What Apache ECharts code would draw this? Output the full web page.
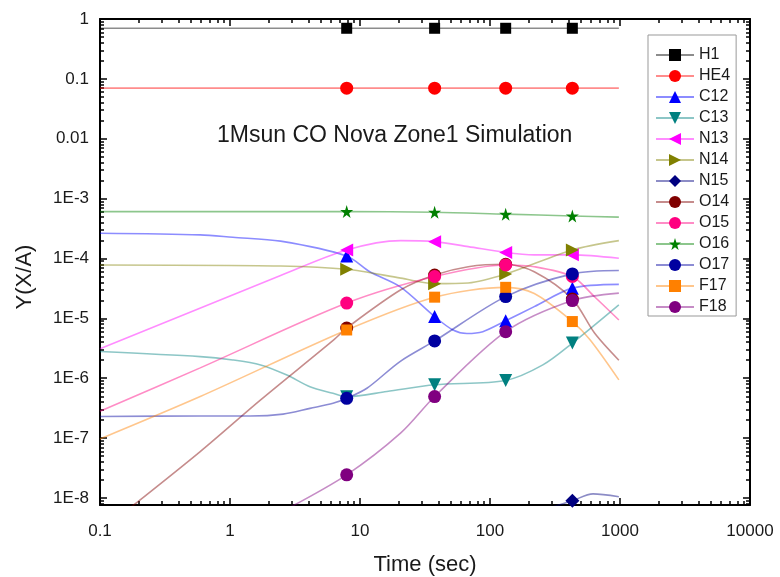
<!DOCTYPE html>
<html><head><meta charset="utf-8">
<script src="https://cdn.jsdelivr.net/npm/echarts@6/dist/echarts.min.js"></script>
<style>html,body{margin:0;padding:0;background:#fff}#c{width:780px;height:577px}</style>
</head><body><div id="c"></div>
<script>
// ---- data (time in sec, abundance Y(X/A)) ----
const xTickLabels = ['0.1', '1', '10', '100', '1000', '10000'];
const yTickLabels = ['1E-8', '1E-7', '1E-6', '1E-5', '1E-4', '1E-3', '0.01', '0.1', '1'];
const markerTimes = [7.9, 37.5, 132, 430];
const speciesNames = ['H1', 'HE4', 'C12', 'C13', 'N13', 'N14', 'N15', 'O14', 'O15', 'O16', 'O17', 'F17', 'F18'];

const tH1 = [0.1, 7.9, 37.5, 132, 430, 980];
const yH1 = [0.70, 0.70, 0.70, 0.70, 0.70, 0.70];
const tHE4 = [0.1, 7.9, 37.5, 132, 430, 980];
const yHE4 = [0.07, 0.07, 0.07, 0.07, 0.07, 0.07];
const tC12 = [0.1, 0.59, 1.05, 2.45, 7.9, 11.9, 20.3, 37.5, 51.9, 66.5, 88, 132, 219, 430, 980];
const yC12 = [2.64e-4, 2.48e-4, 2.26e-4, 1.95e-4, 1.1e-4, 6.0e-5, 3.38e-5, 1.07e-5, 6.4e-6, 5.6e-6, 6.0e-6, 9.1e-6, 1.57e-5, 3.2e-5, 3.7e-5];
const tC13 = [0.1, 0.59, 1.05, 1.72, 2.74, 4.12, 6.2, 7.9, 16.1, 37.5, 132, 255, 430, 980];
const yC13 = [2.8e-6, 2.3e-6, 2.02e-6, 1.67e-6, 1.13e-6, 7.2e-7, 5.6e-7, 4.9e-7, 6.0e-7, 7.8e-7, 9.2e-7, 1.67e-6, 3.86e-6, 1.68e-5];
const tN13 = [0.1, 2.45, 7.9, 20.6, 37.5, 68, 132, 219, 430, 980];
const yN13 = [3.1e-6, 5.2e-5, 1.39e-4, 1.99e-4, 1.91e-4, 1.58e-4, 1.26e-4, 1.15e-4, 1.15e-4, 1.01e-4];
const tN14 = [0.1, 2.45, 7.9, 20.6, 37.5, 68, 132, 430, 980];
const yN14 = [7.8e-5, 7.5e-5, 6.6e-5, 4.7e-5, 3.8e-5, 3.9e-5, 5.5e-5, 1.39e-4, 1.99e-4];
const tN15 = [300, 430, 620, 980];
const yN15 = [7.0e-9, 9.0e-9, 1.17e-8, 1.05e-8];
const tO14 = [0.15, 0.59, 1.72, 6.28, 7.9, 20.6, 37.5, 68, 132, 219, 430, 637, 980];
const yO14 = [5.5e-9, 5.97e-8, 4.36e-7, 4.38e-6, 6.9e-6, 3.0e-5, 5.3e-5, 7.3e-5, 8.0e-5, 6.0e-5, 2.1e-5, 5.7e-6, 2.0e-6];
const tO15 = [0.1, 0.59, 7.9, 37.5, 132, 219, 430, 637, 980];
const yO15 = [2.8e-7, 1.49e-6, 1.8e-5, 5.0e-5, 7.8e-5, 7.3e-5, 5.0e-5, 2.3e-5, 9.4e-6];
const tO16 = [0.1, 7.9, 37.5, 132, 430, 980];
const yO16 = [6.07e-4, 6.07e-4, 5.93e-4, 5.5e-4, 5.14e-4, 4.9e-4];
const tO17 = [0.1, 0.59, 1.43, 2.56, 4.12, 6.2, 7.9, 11.3, 20.3, 37.5, 132, 430, 980];
const yO17 = [2.3e-7, 2.34e-7, 2.34e-7, 2.52e-7, 3.14e-7, 3.81e-7, 4.62e-7, 6.8e-7, 1.9e-6, 4.2e-6, 2.31e-5, 5.53e-5, 6.3e-5];
const tF17 = [0.1, 0.59, 7.9, 37.5, 132, 219, 430, 588, 980];
const yF17 = [9.7e-8, 4.95e-7, 6.4e-6, 2.26e-5, 3.3e-5, 2.6e-5, 8.85e-6, 4.4e-6, 9.4e-7];
const tF18 = [2.5, 7.9, 20.6, 37.5, 132, 430, 980];
const yF18 = [5.9e-9, 2.44e-8, 1.22e-7, 4.95e-7, 6.0e-6, 1.98e-5, 2.64e-5];

// ---- styling ----
const FONT = 'Liberation Sans, Arial, sans-serif';
const TXT = '#1a1a1a';
const STAR = 'path://M50,0 L61,35 L98,35 L68,57 L79,91 L50,70 L21,91 L32,57 L2,35 L39,35 Z';
const TRI_DOWN = 'path://M0,0 L10,0 L5,9 Z';
const TRI_LEFT = 'path://M9,0 L9,10 L0,5 Z';
const TRI_RIGHT = 'path://M0,0 L0,10 L9,5 Z';

const defs = [
  {t: tH1, y: yH1, color: '#000000', symbol: 'rect', size: 11},
  {t: tHE4, y: yHE4, color: '#ff0000', symbol: 'circle', size: 13},
  {t: tC12, y: yC12, color: '#0000ff', symbol: 'triangle', size: 13},
  {t: tC13, y: yC13, color: '#008080', symbol: TRI_DOWN, size: 13},
  {t: tN13, y: yN13, color: '#ff00ff', symbol: TRI_LEFT, size: 13},
  {t: tN14, y: yN14, color: '#808000', symbol: TRI_RIGHT, size: 13},
  {t: tN15, y: yN15, color: '#000080', symbol: 'diamond', size: 14},
  {t: tO14, y: yO14, color: '#800000', symbol: 'circle', size: 13},
  {t: tO15, y: yO15, color: '#ff0080', symbol: 'circle', size: 13},
  {t: tO16, y: yO16, color: '#008000', symbol: STAR, size: 13},
  {t: tO17, y: yO17, color: '#0000a0', symbol: 'circle', size: 13},
  {t: tF17, y: yF17, color: '#ff8000', symbol: 'rect', size: 11},
  {t: tF18, y: yF18, color: '#800080', symbol: 'circle', size: 13}
];

const L = Math.log10;
const Y_MIN = -8.117, Y_MAX = 0, X_MIN = -1, X_MAX = 4;

function majors(lo, hi) { const o = []; for (let n = Math.ceil(lo); n <= Math.floor(hi); n++) o.push(n); return o; }
function minors(lo, hi) {
  const o = [];
  for (let n = Math.floor(lo) - 1; n <= Math.ceil(hi); n++)
    for (let k = 2; k <= 9; k++) { const v = n + Math.log10(k); if (v > lo + 1e-6 && v < hi - 1e-6) o.push(v); }
  return o;
}
const xMaj = majors(X_MIN, X_MAX), xMin = minors(X_MIN, X_MAX);
const yMaj = majors(Y_MIN, Y_MAX), yMin = minors(Y_MIN, Y_MAX);

const lineSt = {color: '#000', width: 2};
const tickSt = {color: '#000', width: 1.5};

function xAx(pos, major, main) {
  const a = {
    type: 'value', position: pos, min: X_MIN, max: X_MAX,
    axisLine: {show: major, onZero: false, lineStyle: lineSt},
    axisTick: {show: true, inside: true, length: major ? 7 : 4, lineStyle: tickSt, customValues: major ? xMaj : xMin},
    axisLabel: {show: false},
    splitLine: {show: false}
  };
  if (main) {
    a.axisLabel = {show: true, customValues: xMaj, formatter: v => xTickLabels[Math.round(v) + 1],
      fontSize: 17, color: TXT, fontFamily: FONT, margin: 18};
    a.name = 'Time (sec)'; a.nameLocation = 'middle'; a.nameGap = 49;
    a.nameTextStyle = {fontSize: 22, color: TXT, fontFamily: FONT};
  }
  return a;
}
function yAx(pos, major, main) {
  const a = {
    type: 'value', position: pos, min: Y_MIN, max: Y_MAX,
    axisLine: {show: major, onZero: false, lineStyle: lineSt},
    axisTick: {show: true, inside: true, length: major ? 7 : 4, lineStyle: tickSt, customValues: major ? yMaj : yMin},
    axisLabel: {show: false},
    splitLine: {show: false}
  };
  if (main) {
    a.axisLabel = {show: true, customValues: yMaj, formatter: v => yTickLabels[Math.round(v) + 8],
      fontSize: 17, color: TXT, fontFamily: FONT, margin: 11, padding: [4, 0, 0, 0]};
  }
  return a;
}

const series = defs.map((d, i) => ({
  type: 'line', name: speciesNames[i], xAxisIndex: 0, yAxisIndex: 0,
  smooth: 0.3, clip: true, showSymbol: true, showAllSymbol: true,
  symbol: d.symbol, symbolSize: d.size,
  lineStyle: {color: d.color, width: 1.6, opacity: 0.45},
  itemStyle: {color: d.color, borderWidth: 0, opacity: 1},
  emphasis: {disabled: true},
  data: d.t.map((t, j) => {
    const it = {value: [L(t), L(d.y[j])]};
    if (!markerTimes.includes(t)) it.symbol = 'none';
    return it;
  })
}));

const chart = echarts.init(document.getElementById('c'), null, {renderer: 'canvas'});
chart.setOption({
  animation: false,
  backgroundColor: '#fff',
  title: {text: '1Msun CO Nova Zone1 Simulation', left: 217, top: 124, padding: 0,
    textStyle: {fontSize: 23, fontWeight: 'normal', color: TXT, fontFamily: FONT}},
  grid: {left: 100, right: 30, top: 19, bottom: 72, containLabel: false, outerBoundsMode: 'none'},
  xAxis: [xAx('bottom', true, true), xAx('bottom', false, false), xAx('top', true, false), xAx('top', false, false)],
  yAxis: [yAx('left', true, true), yAx('left', false, false), yAx('right', true, false), yAx('right', false, false)],
  legend: {
    data: speciesNames, orient: 'vertical', left: 648, top: 35,
    itemWidth: 38, itemHeight: 15, itemGap: 5, padding: [12, 6, 1, 7],
    borderColor: '#999', borderWidth: 1, backgroundColor: '#fff', selectedMode: false,
    textStyle: {fontSize: 16, lineHeight: 15, color: TXT, fontFamily: FONT}
  },
  graphic: [{type: 'text', x: 25, y: 277, rotation: Math.PI / 2,
    style: {text: 'Y(X/A)', fontSize: 22, fontFamily: FONT, fill: TXT, align: 'center', verticalAlign: 'middle'}}],
  series: series
});
</script></body></html>
